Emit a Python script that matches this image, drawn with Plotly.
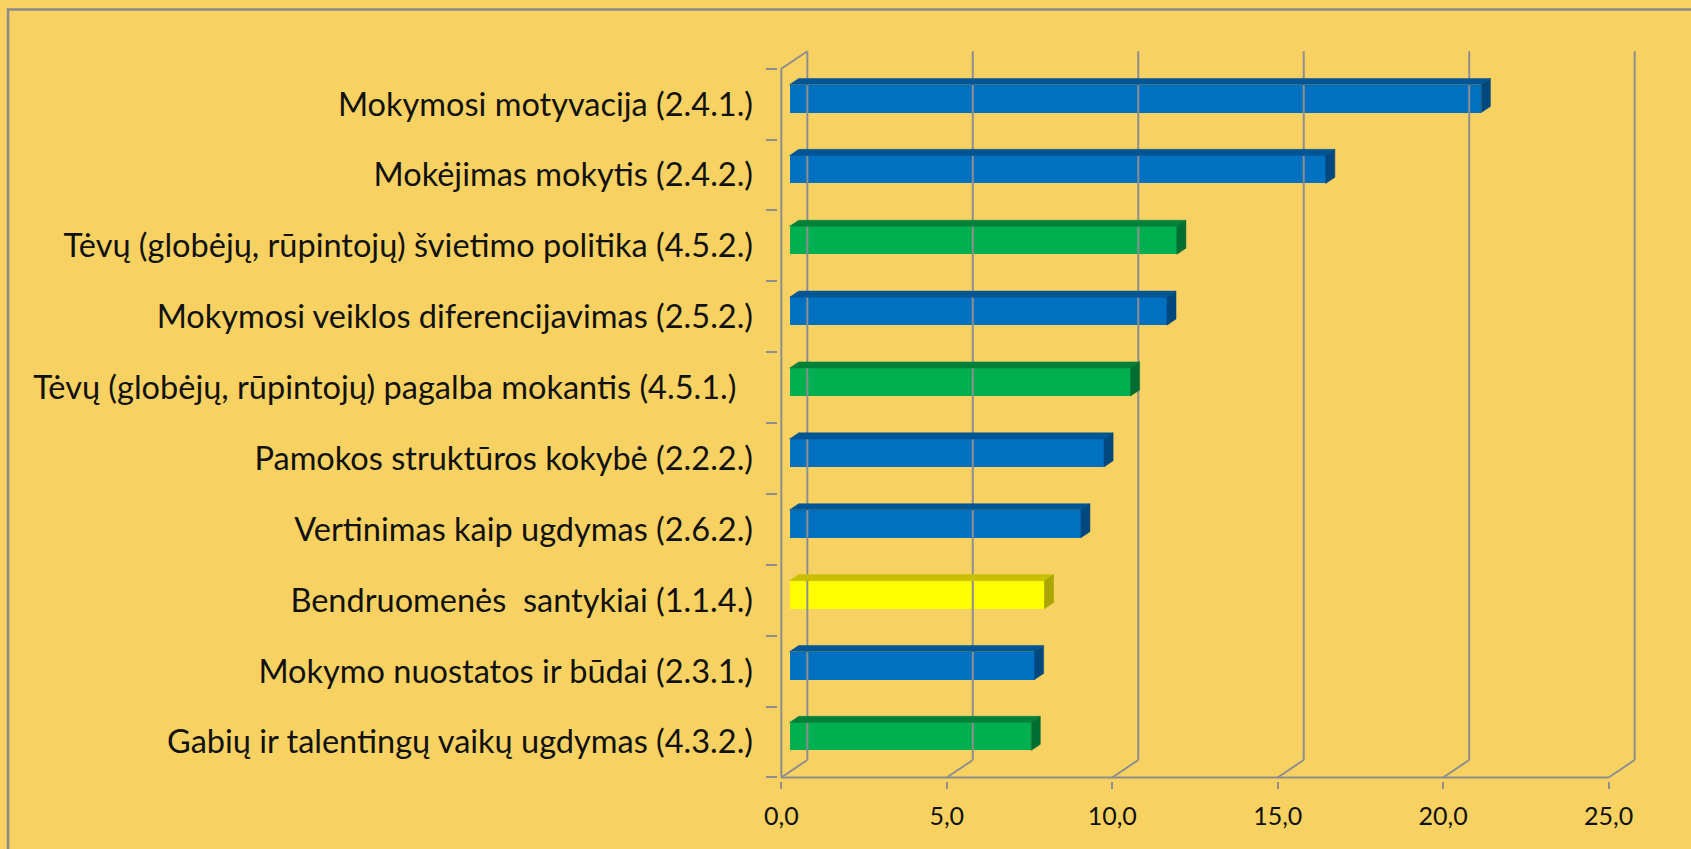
import plotly.graph_objects as go

# ---------------- data ----------------
categories = [
    "Mokymosi motyvacija (2.4.1.)",
    "Mokėjimas mokytis (2.4.2.)",
    "Tėvų (globėjų, rūpintojų) švietimo politika (4.5.2.)",
    "Mokymosi veiklos diferencijavimas (2.5.2.)",
    "Tėvų (globėjų, rūpintojų) pagalba mokantis (4.5.1.)\u00a0\u00a0",
    "Pamokos struktūros kokybė (2.2.2.)",
    "Vertinimas kaip ugdymas (2.6.2.)",
    "Bendruomenės\u00a0\u00a0santykiai (1.1.4.)",
    "Mokymo nuostatos ir būdai (2.3.1.)",
    "Gabių ir talentingų vaikų ugdymas (4.3.2.)",
]
values = [20.9, 16.2, 11.7, 11.4, 10.3, 9.5, 8.8, 7.7, 7.4, 7.3]
groups = ["blue", "blue", "green", "blue", "green", "blue", "blue", "yellow", "blue", "green"]
x_tick_values = [0, 5, 10, 15, 20, 25]
x_tick_labels = ["0,0", "5,0", "10,0", "15,0", "20,0", "25,0"]

# ---------------- style ----------------
palette = {
    "blue":   {"front": "#0070C0", "top": "#005594", "side": "#00487E"},
    "green":  {"front": "#00B050", "top": "#00813A", "side": "#006E31"},
    "yellow": {"front": "#FFFF00", "top": "#C9C100", "side": "#ABA500"},
}
BG = "#F7D262"
GRID = "#8E8E8E"
FONT = "Lato"

W, H = 1691, 849
px_per_x = 33.07
px_per_cat = 70.9
depth_dx_px, depth_dy_px = 26.0, 17.5
dxu = depth_dx_px / px_per_x      # depth offset in x units
dyu = depth_dy_px / px_per_cat    # depth offset in y units

x0_px, base_px = 781.7, 777.3
xmin, xmax = -0.1, 25.0 + dxu + 0.07
ymin, ymax = -0.05, 10.0 + dyu + 0.06
L = x0_px + xmin * px_per_x
R = x0_px + xmax * px_per_x
B = base_px - ymin * px_per_cat
T = base_px - ymax * px_per_cat

n = len(categories)
centers = [n - i - 0.5 for i in range(n)]

bar_h = 0.395
d_front, d_back = 0.32, 0.67

fig = go.Figure()

# back wall gridlines + floor diagonals
gx, gy = [], []
for v in x_tick_values:
    gx += [v + dxu, v + dxu, None, v, v + dxu, None]
    gy += [dyu, n + dyu, None, 0, dyu, None]
# front base line, front left axis, top-left diagonal
gx += [0, 25, None, 0, 0, dxu, None]
gy += [0, 0, None, 0, n, n + dyu, None]
fig.add_trace(go.Scatter(x=gx, y=gy, mode="lines", line=dict(color=GRID, width=2),
                         hoverinfo="skip", showlegend=False))

# bars
sx, sy = d_front * dxu, d_front * dyu
ddx, ddy = (d_back - d_front) * dxu, (d_back - d_front) * dyu
for c, v, g in zip(centers, values, groups):
    col = palette[g]
    top = c + sy + bar_h / 2
    bot = c + sy - bar_h / 2
    # top face
    fig.add_trace(go.Scatter(
        x=[sx, sx + v, sx + v + ddx, sx + ddx, sx],
        y=[top, top, top + ddy, top + ddy, top],
        mode="lines", fill="toself", fillcolor=col["top"],
        line=dict(color=col["top"], width=0.5), hoverinfo="skip", showlegend=False))
    # side face
    fig.add_trace(go.Scatter(
        x=[sx + v, sx + v + ddx, sx + v + ddx, sx + v, sx + v],
        y=[bot, bot + ddy, top + ddy, top, bot],
        mode="lines", fill="toself", fillcolor=col["side"],
        line=dict(color=col["side"], width=0.5), hoverinfo="skip", showlegend=False))

# front faces
fig.add_trace(go.Bar(
    x=values, y=[c + sy for c in centers], base=sx, orientation="h", width=bar_h,
    marker=dict(color=[palette[g]["front"] for g in groups], line=dict(width=0)),
    showlegend=False, hovertext=categories, hoverinfo="text+x"))

def to_paper_x(px):
    return (px - L) / (R - L)

def to_paper_y(py):
    return (B - py) / (B - T)

fig.update_layout(
    width=W, height=H,
    paper_bgcolor=BG, plot_bgcolor="rgba(0,0,0,0)",
    margin=dict(l=L, r=W - R, t=T, b=H - B, autoexpand=False),
    font=dict(family=FONT, color="#111111"),
    bargap=0,
    xaxis=dict(
        range=[xmin, xmax], showgrid=False, zeroline=False, showline=False,
        tickmode="array", tickvals=x_tick_values, ticktext=x_tick_labels,
        ticks="outside", ticklen=7, tickwidth=2, tickcolor=GRID,
        tickfont=dict(size=25, family=FONT, color="#111111"),
        ticklabelstandoff=6, fixedrange=True,
    ),
    yaxis=dict(
        range=[ymin, ymax], showgrid=False, zeroline=False, showline=False,
        tickmode="array", tickvals=centers, ticktext=categories, ticks="",
        tickfont=dict(size=32.5, family=FONT, color="#111111"),
        ticklabelstandoff=24, fixedrange=True,
        minor=dict(tickmode="array", tickvals=list(range(n + 1)), ticks="outside",
                   ticklen=11, tickwidth=2, tickcolor=GRID, showgrid=False),
    ),
    shapes=[dict(type="rect", xref="paper", yref="paper",
                 x0=to_paper_x(9), x1=to_paper_x(W + 30),
                 y0=to_paper_y(H + 30), y1=to_paper_y(9),
                 line=dict(color="#8A8A8A", width=2.5), fillcolor="rgba(0,0,0,0)",
                 layer="below")],
)

fig.write_html(
    "out.html",
    config={"displayModeBar": False},
    post_script="document.body.style.margin='0';document.body.style.padding='0';"
                "document.body.style.overflow='hidden';",
)
